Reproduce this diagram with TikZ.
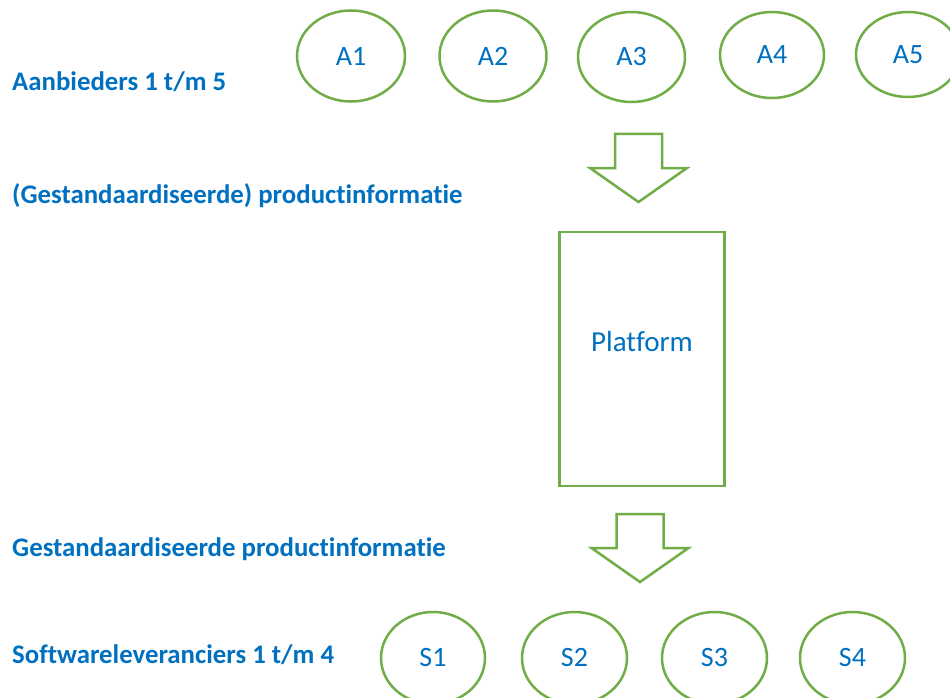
\documentclass[tikz,border=0pt]{standalone}
\usepackage{fontspec}
\setmainfont[Ligatures=NoCommon]{Carlito}
\usepackage{tikz}
\usetikzlibrary{shapes, positioning, calc}
\usepackage{xcolor}
\definecolor{kopblauw}{RGB}{0, 112, 192}
\definecolor{randgroen}{RGB}{112, 173, 71}

\tikzset{
    ellips/.style={ellipse, draw=randgroen, line width=2.5pt, inner sep=0pt,
        text=kopblauw, font=\fontsize{28}{32}\selectfont},
    kop/.style={anchor=base west, inner sep=0pt, text=kopblauw,
        font=\bfseries\fontsize{26.8}{30}\selectfont},
    blok/.style={rectangle, draw=randgroen, line width=2.5pt},
    pijl/.style={draw=randgroen, line width=2.5pt, fill=white, line join=miter}
}

\begin{document}
\begin{tikzpicture}[x=1pt, y=-1pt]
    \clip (0,0) rectangle (950,698);
    \fill[white] (0,0) rectangle (950,698);

    % Aanbieders
    \node[kop] (aanbieders) at (12,90.7) {Aanbieders 1 t/m 5};
    \node[ellips, minimum width=108pt, minimum height=91pt] (a1) at (351,56) {A1};
    \node[ellips, minimum width=107pt, minimum height=91pt] (a2) at (493,56) {A2};
    \node[ellips, minimum width=107pt, minimum height=90pt] (a3) at (631.5,57) {A3};
    \node[ellips, minimum width=104pt, minimum height=86pt] (a4) at (772,55) {A4};
    \node[ellips, minimum width=104pt, minimum height=85pt] (a5) at (908,54.5) {A5};

    % Blokpijl naar platform
    \node[kop] (info1) at (12,203) {(Gestandaardiseerde) productinformatie};
    \coordinate (pijl1) at (638.5,134);
    \draw[pijl] ($(pijl1)+(-23.5,0)$) -- ($(pijl1)+(23.5,0)$) -- ($(pijl1)+(23.5,34)$)
        -- ($(pijl1)+(48.5,34)$) -- ($(pijl1)+(0,68)$) -- ($(pijl1)+(-48.5,34)$)
        -- ($(pijl1)+(-23.5,34)$) -- cycle;

    % Platform
    \node[blok, minimum width=165pt, minimum height=254pt] (platform) at (642,359) {};
    \node[text=kopblauw, font=\fontsize{29}{33}\selectfont] (platformtekst)
        at ([yshift=17pt]platform.center) {Platform};

    % Blokpijl naar softwareleveranciers
    \node[kop] (info2) at (12,556) {Gestandaardiseerde productinformatie};
    \coordinate (pijl2) at (640,514);
    \draw[pijl] ($(pijl2)+(-23.5,0)$) -- ($(pijl2)+(23.5,0)$) -- ($(pijl2)+(23.5,34)$)
        -- ($(pijl2)+(48.5,34)$) -- ($(pijl2)+(0,68)$) -- ($(pijl2)+(-48.5,34)$)
        -- ($(pijl2)+(-23.5,34)$) -- cycle;

    % Softwareleveranciers
    \node[kop] (leveranciers) at (12,663) {Softwareleveranciers 1 t/m 4};
    \node[ellips, minimum width=104pt, minimum height=92pt] (s1) at (433,658) {S1};
    \node[ellips, minimum width=105pt, minimum height=92pt] (s2) at (574.5,658) {S2};
    \node[ellips, minimum width=105pt, minimum height=92pt] (s3) at (714.5,658) {S3};
    \node[ellips, minimum width=105pt, minimum height=92pt] (s4) at (852.5,658) {S4};
\end{tikzpicture}
\end{document}
